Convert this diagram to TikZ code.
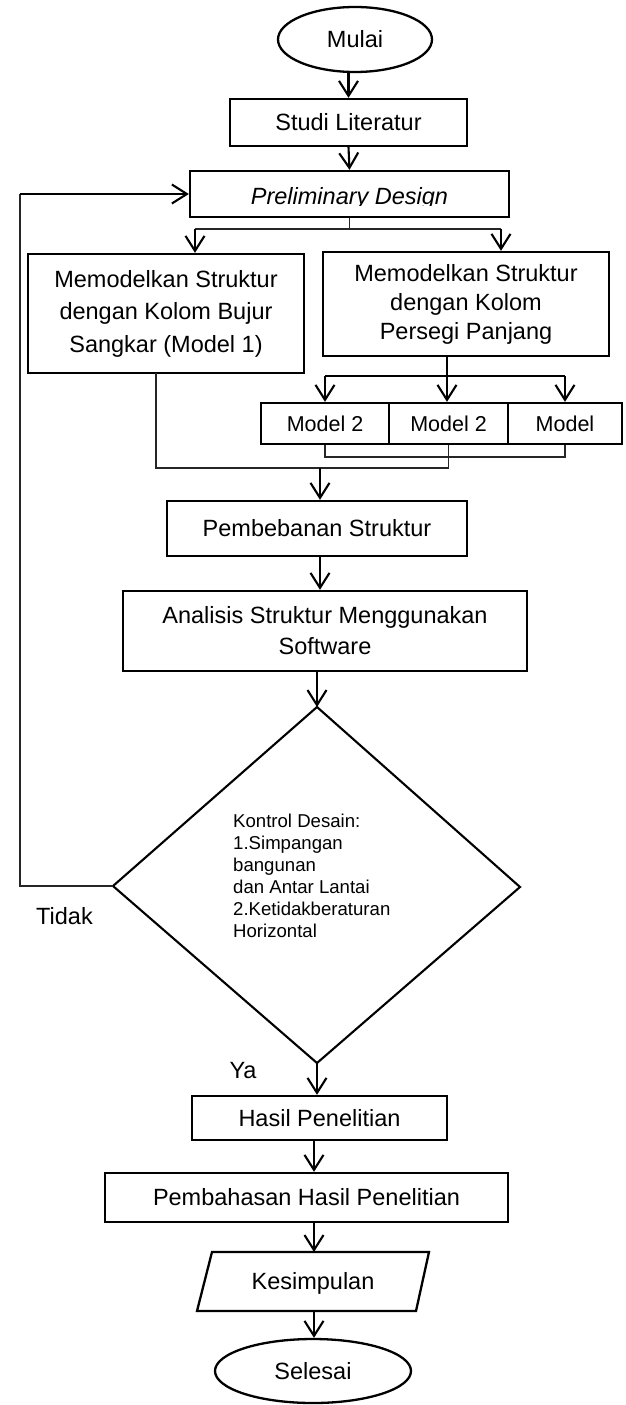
\documentclass[tikz,border=0pt]{standalone}
\usepackage{fontspec}
\setmainfont{Liberation Sans}
\usetikzlibrary{arrows.meta,shapes.geometric}
\tikzset{
  box/.style={draw, rectangle, line width=2.3pt, inner sep=0pt, align=center,
    font=\fontsize{23.5}{30}\selectfont},
  term/.style={draw, ellipse, line width=2.3pt, inner sep=0pt,
    font=\fontsize{23.5}{30}\selectfont},
  lbl/.style={inner sep=0pt, font=\fontsize{23.5}{30}\selectfont},
  arr/.style={-{Straight Barb[length=15pt,width=19pt,line width=2.1pt]}, line width=2.1pt},
  plain/.style={line width=2.1pt},
  thinl/.style={line width=1.2pt, black!85},
}
\begin{document}
\begin{tikzpicture}[x=1pt,y=-1pt]
\useasboundingbox (0,0) rectangle (626,1405);
\fill[white] (0,0) rectangle (626,1405);

% nodes
\node[term, minimum width=154pt, minimum height=65pt] (mulai) at (355,39.5) {Mulai};
\node[box, minimum width=237pt, minimum height=47pt] (studi) at (348.5,122.5) {Studi Literatur};
\node[box, minimum width=319pt, minimum height=46pt] (prelim) at (349.5,194) {};
\begin{scope}
  \clip (191,172) rectangle (508,205.5);
  \node[lbl, anchor=base, font=\fontsize{23.5}{30}\selectfont\itshape] (prelimtxt) at (349.5,204) {Preliminary Design};
\end{scope}
\node[box, minimum width=276pt, minimum height=119pt, font=\fontsize{23.5}{32.5}\selectfont] (m1) at (166,313.5)
  {Memodelkan Struktur\\dengan Kolom Bujur\\Sangkar (Model 1)};
\node[box, minimum width=286pt, minimum height=104pt, font=\fontsize{23.5}{29}\selectfont] (m2) at (466,304)
  {Memodelkan Struktur\\dengan Kolom\\Persegi Panjang};
\node[box, minimum width=128pt, minimum height=41pt, font=\fontsize{21.5}{26}\selectfont] (b1) at (325,423.5) {Model 2};
\node[box, minimum width=119pt, minimum height=41pt, font=\fontsize{21.5}{26}\selectfont] (b2) at (448.5,423.5) {Model 2};
\node[box, minimum width=114pt, minimum height=41pt, font=\fontsize{21.5}{26}\selectfont] (b3) at (565,423.5) {Model};
\node[box, minimum width=300pt, minimum height=55pt] (pemb) at (317,528.5) {Pembebanan Struktur};
\node[box, minimum width=404pt, minimum height=80pt, font=\fontsize{23.5}{31}\selectfont] (anal) at (325,631)
  {Analisis Struktur Menggunakan\\Software};

% decision diamond
\coordinate (dT) at (317,707);
\coordinate (dR) at (520,887);
\coordinate (dB) at (317,1063);
\coordinate (dL) at (113,886);
\draw[plain, line join=miter] (dT) -- (dR) -- (dB) -- (dL) -- cycle;
\node[inner sep=0pt, anchor=west, align=left, font=\fontsize{18.6}{22}\selectfont] (ctrl) at (233,876)
  {Kontrol Desain:\\1.Simpangan\\bangunan\\dan Antar Lantai\\2.Ketidakberaturan\\Horizontal};

\node[box, minimum width=255pt, minimum height=44pt] (hasil) at (319.5,1118) {Hasil Penelitian};
\node[box, minimum width=403pt, minimum height=49pt] (bahas) at (306.5,1197.5) {Pembahasan Hasil Penelitian};

% Kesimpulan (parallelogram)
\coordinate (kTL) at (212,1252);
\coordinate (kTR) at (429,1252);
\coordinate (kBR) at (416,1311);
\coordinate (kBL) at (197,1311);
\coordinate (kT) at (314,1252);
\coordinate (kB) at (314,1311);
\draw[line width=2.3pt, line join=miter] (kTL) -- (kTR) -- (kBR) -- (kBL) -- cycle;
\node[lbl] (kes) at (313,1283) {Kesimpulan};

\node[term, minimum width=196pt, minimum height=64pt] (selesai) at (313,1371) {Selesai};

% labels
\node[lbl] (tidak) at (64.5,916) {Tidak};
\node[lbl] (ya) at (243,1071) {Ya};

% connectors
\draw[arr] (mulai.south -| studi.north) -- (studi.north);
\draw[arr] (studi.south) -- (prelim.north);

\coordinate (sp1) at (349.5,229);
\coordinate (sp1L) at (195,229);
\coordinate (sp1R) at (501,229);
\draw[thinl] (prelim.south) -- (sp1);
\draw[thinl] (sp1L) -- (sp1R);
\draw[arr] (sp1L) -- (sp1L |- m1.north);
\draw[arr] (sp1R) -- (sp1R |- m2.north);

\coordinate (sp2) at (447,376);
\draw[plain] (sp2 |- m2.south) -- (sp2);
\draw[plain] (sp2 -| b1.north) -- (sp2 -| b3.north);
\draw[arr] (sp2 -| b1.north) -- (b1.north);
\draw[arr] (sp2) -- (sp2 |- b2.north);
\draw[arr] (sp2 -| b3.north) -- (b3.north);

\coordinate (j1) at (0,457);
\coordinate (j2) at (0,468);
\coordinate (m1out) at (156,373);
\draw[thinl] (b1.south) -- (b1.south |- j1) -- (b3.south |- j1) -- (b3.south);
\draw[thinl] (b2.south) -- (b2.south |- j2) -- (m1out |- j2) -- (m1out);
\coordinate (mg) at (320,468);
\draw[arr] (mg) -- (mg |- pemb.north);

\draw[arr] (mg |- pemb.south) -- (mg |- anal.north);
\draw[arr] (dT |- anal.south) -- (dT);
\draw[arr] (dB) -- (dB |- hasil.north);
\draw[arr] (kT |- hasil.south) -- (kT |- bahas.north);
\draw[arr] (kT |- bahas.south) -- (kT);
\draw[arr] (kB) -- (kB |- selesai.north);

% feedback loop
\coordinate (fb1) at (20,886);
\coordinate (fb2) at (20,194);
\draw[thinl] (dL) -- (fb1) -- (fb2);
\draw[arr] (fb2) -- (prelim.west);
\end{tikzpicture}
\end{document}
